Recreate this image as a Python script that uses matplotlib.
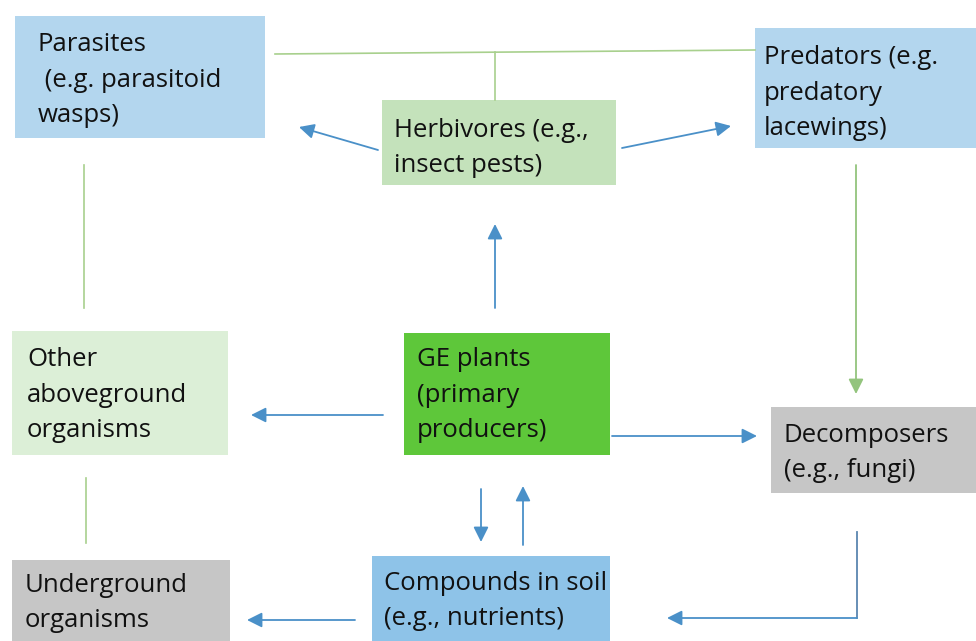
import matplotlib
matplotlib.use("Agg")
import matplotlib.pyplot as plt
from matplotlib.patches import Rectangle, FancyArrowPatch

plt.rcParams['font.family'] = ['Open Sans', 'DejaVu Sans']

# Node labels
labels = [
    "Parasites\n (e.g. parasitoid\nwasps)",
    "Predators (e.g.\npredatory\nlacewings)",
    "Herbivores (e.g.,\ninsect pests)",
    "Other\naboveground\norganisms",
    "GE plants\n(primary\nproducers)",
    "Decomposers\n(e.g., fungi)",
    "Underground\norganisms",
    "Compounds in soil\n(e.g., nutrients)",
]
# Box extents in pixel space: x0, y0, x1, y1
boxes = [
    (15, 16, 265, 138),
    (755, 28, 976, 148),
    (382, 100, 616, 185),
    (12, 331, 228, 455),
    (404, 333, 610, 455),
    (771, 407, 976, 493),
    (12, 560, 230, 641),
    (372, 556, 610, 641),
]
box_colors = ["#b3d6ee", "#b3d6ee", "#c4e2bb", "#dcefd7", "#5ec73a",
              "#c6c6c6", "#c6c6c6", "#8ec3e8"]
# Text anchor (left x, first-line baseline y)
text_pos = [(38, 50), (764, 63), (394, 136), (27, 365), (417, 365),
            (784, 441), (25, 591), (384, 589)]
LINE_STEP = 36

# Connectors: plain green lines
green_lines = [
    [(275, 54), (755, 50)],
    [(495, 52), (495, 100)],
    [(84, 165), (84, 308)],
    [(86, 478), (86, 543)],
]
# Arrows: (start, end, colour)
arrows = [
    ((856, 165), (856, 394), "#93c47d"),
    ((378, 150), (299, 127), "#4a90c8"),
    ((622, 148), (731, 126), "#4a90c8"),
    ((495, 308), (495, 224), "#4a90c8"),
    ((383, 415), (251, 415), "#4a90c8"),
    ((612, 436), (757, 436), "#4a90c8"),
    ((481, 489), (481, 542), "#4a90c8"),
    ((523, 545), (523, 486), "#4a90c8"),
    ((355, 620), (247, 620), "#4a90c8"),
]
elbow = [(857, 532), (857, 618), (667, 618)]

W, H = 976, 641
fig = plt.figure(figsize=(W / 100, H / 100), dpi=100)
ax = fig.add_axes([0, 0, 1, 1])
ax.set_xlim(0, W)
ax.set_ylim(H, 0)
ax.axis("off")

for (x0, y0, x1, y1), c in zip(boxes, box_colors):
    ax.add_patch(Rectangle((x0, y0), x1 - x0, y1 - y0, facecolor=c,
                           edgecolor="none", zorder=1))

for lab, (tx, ty) in zip(labels, text_pos):
    n = lab.count("\n")
    ax.text(tx, ty + n * LINE_STEP, lab, ha="left", va="baseline", fontsize=18.5,
            color="#111111", linespacing=1.55, zorder=3)

for seg in green_lines:
    xs, ys = zip(*seg)
    ax.plot(xs, ys, color="#a8d08d", lw=1.2, zorder=2)

for s, e, c in arrows:
    ax.add_patch(FancyArrowPatch(s, e, arrowstyle="-|>,head_length=6,head_width=3",
                                 mutation_scale=1.5, color=c, lw=1.3,
                                 shrinkA=0, shrinkB=0, zorder=2))

xs, ys = zip(*elbow)
ax.plot(xs[:2], ys[:2], color="#5a86b0", lw=1.3, zorder=2)
ax.add_patch(FancyArrowPatch(elbow[1], elbow[2], arrowstyle="-|>,head_length=6,head_width=3",
                             mutation_scale=1.5, color="#4a90c8", lw=1.3,
                             shrinkA=0, shrinkB=0, zorder=2))

fig.savefig("out.png", dpi=100)
